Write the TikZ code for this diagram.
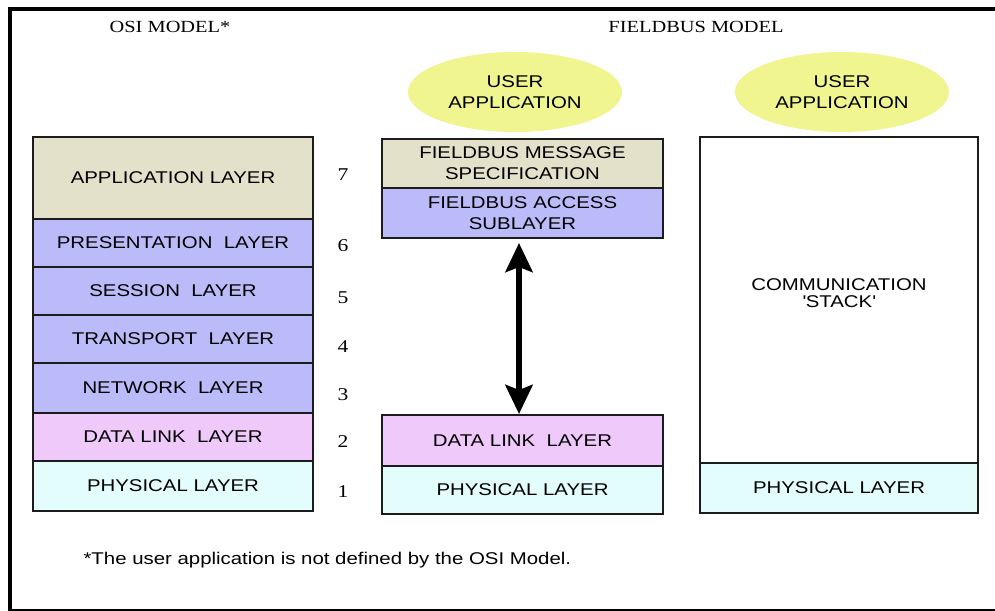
\documentclass[tikz,border=0pt]{standalone}
\usepackage{fontspec}
\setmainfont{Liberation Sans}[FakeStretch=1.2]
\newfontfamily\serifx{Liberation Serif}[FakeStretch=1.2]
\usetikzlibrary{arrows.meta,shapes.geometric}
\definecolor{khaki}{HTML}{E3E1CA}
\definecolor{lav}{HTML}{BBBBF9}
\definecolor{pinkl}{HTML}{F0C9FB}
\definecolor{cyanl}{HTML}{E3FDFD}
\definecolor{yell}{HTML}{F0F590}
\definecolor{boxline}{HTML}{1C1C1C}
\begin{document}
\begin{tikzpicture}[x=1pt,y=-1pt,
  every node/.style={font=\fontsize{17}{21}\selectfont},
  layer/.style={draw=boxline, line width=1.6pt, inner sep=0pt, outer sep=0pt, align=center},
  leftstack/.style={layer, minimum width=280pt},
  midstack/.style={layer, minimum width=281pt},
  rightstack/.style={layer, minimum width=278pt},
  userapp/.style={ellipse, fill=yell, minimum width=214pt, minimum height=80pt, inner sep=0pt, align=center},
  title/.style={font=\serifx\fontsize{17}{21}\selectfont},
  num/.style={font=\serifx\fontsize{18}{21}\selectfont},
  bigarrow/.style={line width=6.5pt, {Stealth[length=29pt,width=27pt,inset=5pt]}-{Stealth[length=29pt,width=27pt,inset=5pt]}}
]
\useasboundingbox (0,0) rectangle (995,610);
\clip (0,0) rectangle (995,610);
\fill[white] (0,0) rectangle (995,610);
\draw[line width=4pt] (10,9) rectangle (1020,611);

% titles
\node[title] (osititle) at (170,27) {OSI MODEL*};
\node[title] (fbtitle) at (696,27) {FIELDBUS MODEL};

% OSI stack
\node[leftstack, fill=khaki, minimum height=82pt] (app) at (173,178) {APPLICATION LAYER};
\node[leftstack, fill=lav, minimum height=48pt] (pres) at (173,243) {PRESENTATION\ \ LAYER};
\node[leftstack, fill=lav, minimum height=48pt] (sess) at (173,291) {SESSION\ \ LAYER};
\node[leftstack, fill=lav, minimum height=48pt] (trans) at (173,339) {TRANSPORT\ \ LAYER};
\node[leftstack, fill=lav, minimum height=50pt] (net) at (173,388) {NETWORK\ \ LAYER};
\node[leftstack, fill=pinkl, minimum height=48pt] (dl) at (173,437) {DATA LINK\ \ LAYER};
\node[leftstack, fill=cyanl, minimum height=50pt] (phy) at (173,486) {PHYSICAL LAYER};

% layer numbers
\node[num] (n7) at (343,175) {7};
\node[num] (n6) at (343,246) {6};
\node[num] (n5) at (343,298) {5};
\node[num] (n4) at (343,347) {4};
\node[num] (n3) at (343,395) {3};
\node[num] (n2) at (343,442) {2};
\node[num] (n1) at (343,492) {1};

% Fieldbus stack (middle)
\node[userapp] (ua1) at (515,92) {USER\\APPLICATION};
\node[midstack, fill=khaki, minimum height=49pt] (fms) at (522.5,163.5) {FIELDBUS MESSAGE\\SPECIFICATION};
\node[midstack, fill=lav, minimum height=50pt] (fas) at (522.5,213) {FIELDBUS ACCESS\\SUBLAYER};
\node[midstack, fill=pinkl, minimum height=51pt] (dlm) at (522.5,440.5) {DATA LINK\ \ LAYER};
\node[midstack, fill=cyanl, minimum height=48pt] (phym) at (522.5,490) {PHYSICAL LAYER};
\coordinate (ax) at (519,0);
\draw[bigarrow] ([yshift=-5pt]fas.south -| ax) -- ([yshift=1pt]dlm.north -| ax);

% right stack
\node[userapp] (ua2) at (842,92) {USER\\APPLICATION};
\node[rightstack, fill=white, minimum height=326pt, text depth=0pt] (stack) at (839,300) {\raisebox{25pt}{\begin{tabular}{@{}c@{}}COMMUNICATION\\[-4pt]\textquotesingle STACK\textquotesingle\end{tabular}}};
\node[rightstack, fill=cyanl, minimum height=50pt] (phyr) at (839,488) {PHYSICAL LAYER};

% footnote
\node[anchor=west] (foot) at (80,560) {*The user application is not defined by the OSI Model.};
\end{tikzpicture}
\end{document}
